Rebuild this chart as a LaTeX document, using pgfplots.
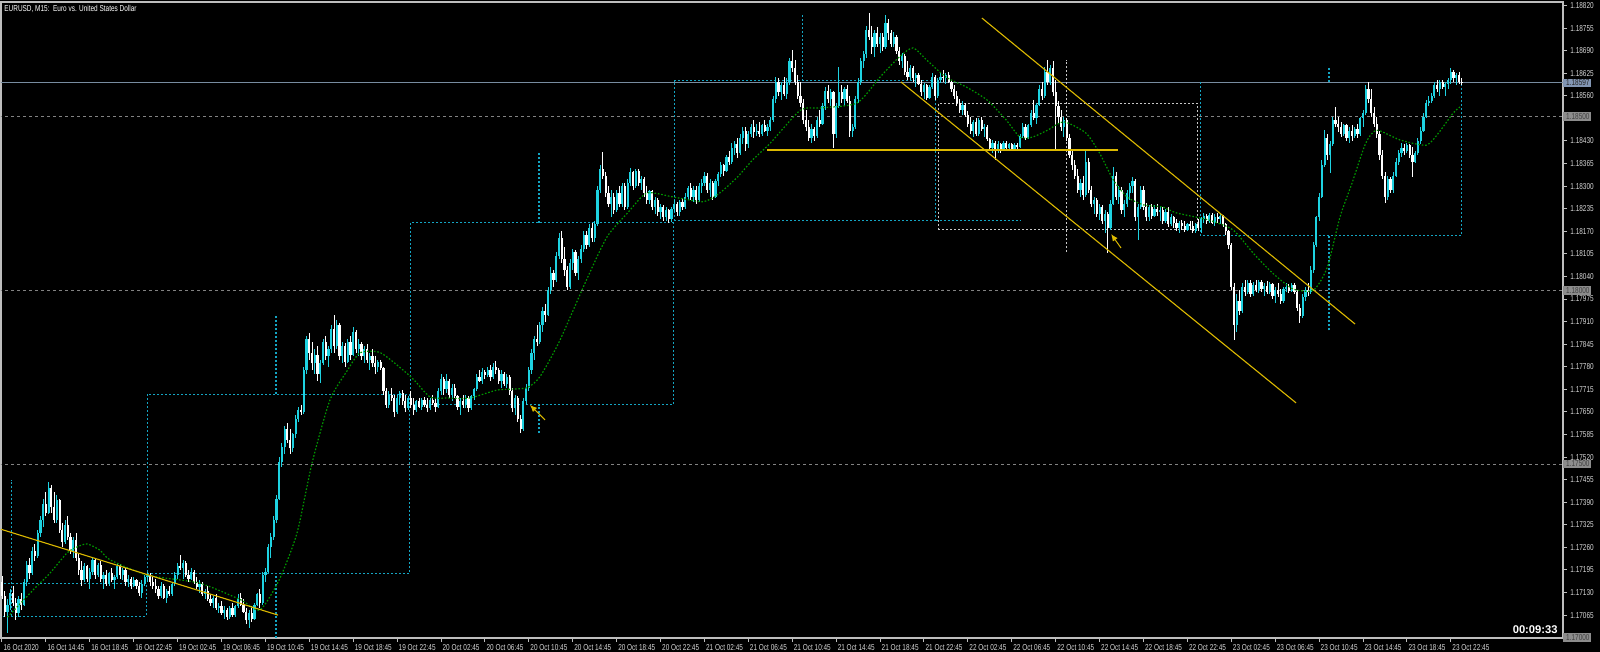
\documentclass[border=0pt]{standalone}
\usepackage{pgfplots}
\pgfplotsset{compat=1.18}
\usepackage{pgfplotstable}
\usepackage{fontspec}
\setmainfont{Liberation Sans}
\newfontfamily\mtfont{Liberation Sans}[FakeStretch=0.75]
\usetikzlibrary{arrows.meta}
\definecolor{bull}{RGB}{30,210,225}
\definecolor{bear}{RGB}{255,255,255}
\definecolor{boxc}{RGB}{20,165,195}
\definecolor{wbox}{RGB}{200,200,200}
\definecolor{mac}{RGB}{0,150,0}
\definecolor{yel}{RGB}{220,185,0}
\definecolor{lvl}{RGB}{130,130,130}
\definecolor{bidc}{RGB}{120,140,160}
\definecolor{framec}{RGB}{190,190,190}
\definecolor{labc}{RGB}{215,215,215}
\definecolor{bidbox}{RGB}{130,150,180}
\definecolor{lvlbox}{RGB}{140,140,140}

% EURUSD M15 candles, prices in points above 1.17000 (1 point = 0.00001)
\pgfplotstableread{
i o h l c
0 160 178 110 120
1 120 135 60 75
2 75 110 14 95
3 95 140 80 130
4 130 150 90 100
5 100 115 50 70
6 70 120 60 110
7 110 130 80 95
8 95 170 90 160
9 160 220 150 210
10 210 230 170 185
11 185 260 180 250
12 250 270 220 235
13 235 310 230 300
14 300 350 290 340
15 340 400 320 385
16 385 420 350 360
17 360 449 355 430
18 430 440 360 375
19 375 420 330 340
20 340 410 330 395
21 395 400 300 310
22 310 330 260 275
23 275 340 270 325
24 325 350 280 290
25 290 300 240 250
26 250 290 230 280
27 280 300 220 230
28 230 240 180 195
29 195 220 150 165
30 165 215 160 205
31 205 210 160 170
32 170 200 140 190
33 190 232 180 225
34 225 230 170 180
35 180 215 175 210
36 210 220 160 170
37 170 190 140 180
38 180 195 150 155
39 155 190 150 185
40 185 200 160 165
41 165 180 140 175
42 175 215 170 205
43 205 212 170 180
44 180 200 165 195
45 195 200 150 160
46 160 180 145 170
47 170 175 140 150
48 150 175 145 165
49 165 170 140 150
50 150 160 120 130
51 130 165 115 155
52 155 180 150 175
53 175 190 160 180
54 180 186 150 160
55 160 175 140 150
56 150 170 130 140
57 140 150 110 120
58 120 160 115 150
59 150 155 110 115
60 115 140 100 135
61 135 150 120 125
62 125 160 120 155
63 155 190 150 180
64 180 215 170 205
65 205 238 195 200
66 200 225 170 215
67 215 220 175 180
68 180 195 160 170
69 170 200 165 190
70 190 195 155 160
71 160 175 140 145
72 145 165 130 155
73 155 160 120 125
74 125 140 110 135
75 135 150 105 110
76 110 125 90 100
77 100 120 85 115
78 115 125 80 85
79 85 100 70 90
80 90 105 65 70
81 70 90 55 80
82 80 85 50 60
83 60 90 55 85
84 85 100 60 65
85 65 95 60 90
86 90 125 85 115
87 115 128 90 95
88 95 110 70 75
89 75 85 40 50
90 50 80 28 70
91 70 90 45 55
92 55 100 50 95
93 95 130 90 125
94 125 140 85 100
95 100 190 95 180
96 180 200 160 190
97 190 270 185 260
98 260 300 230 290
99 290 350 280 340
100 340 410 330 400
101 400 520 395 505
102 505 560 490 550
103 550 610 530 600
104 600 618 560 570
105 570 600 530 545
106 545 590 535 585
107 585 640 575 630
108 630 665 620 655
109 655 670 640 650
110 650 780 645 770
111 770 870 760 860
112 860 877 800 820
113 820 850 770 790
114 790 830 760 815
115 815 840 740 760
116 760 800 733 790
117 790 860 785 850
118 850 870 800 810
119 810 840 780 830
120 830 900 820 890
121 890 929 820 840
122 840 915 830 900
123 900 905 800 810
124 810 850 790 840
125 840 848 780 795
126 795 860 790 850
127 850 870 800 815
128 815 895 810 880
129 880 885 820 830
130 830 860 810 845
131 845 850 800 810
132 810 840 790 830
133 830 845 790 800
134 800 820 770 810
135 810 830 780 790
136 790 810 760 780
137 780 800 765 795
138 795 800 770 775
139 775 780 700 710
140 710 720 660 670
141 670 710 660 700
142 700 720 680 690
143 690 700 635 650
144 650 700 645 690
145 690 710 670 705
146 705 713 670 680
147 680 700 650 660
148 660 695 655 690
149 690 710 660 670
150 670 690 640 655
151 655 685 650 680
152 680 690 660 665
153 665 690 655 685
154 685 693 665 670
155 670 690 650 660
156 660 690 655 685
157 685 700 670 675
158 675 690 650 665
159 665 720 660 710
160 710 760 700 745
161 745 750 700 715
162 715 760 705 740
163 740 745 690 700
164 700 730 680 720
165 720 730 690 695
166 695 700 655 665
167 665 690 640 680
168 680 700 660 670
169 670 700 660 690
170 690 695 650 660
171 660 700 655 695
172 695 720 685 715
173 715 760 710 750
174 750 770 735 740
175 740 775 730 765
176 765 770 745 755
177 755 780 750 770
178 770 785 740 750
179 750 790 745 780
180 780 797 760 770
181 770 775 730 740
182 740 770 720 760
183 760 765 725 730
184 730 760 720 750
185 750 755 700 710
186 710 720 650 660
187 660 700 640 690
188 690 695 620 630
189 630 640 589 600
190 600 690 595 680
191 680 730 670 720
192 720 780 710 770
193 770 830 760 820
194 820 870 800 860
195 860 900 840 850
196 850 910 845 900
197 900 951 880 940
198 940 960 910 930
199 930 1010 925 1000
200 1000 1067 990 1050
201 1050 1060 1010 1030
202 1030 1110 1025 1100
203 1100 1165 1090 1150
204 1150 1170 1080 1090
205 1090 1125 1040 1060
206 1060 1070 1001 1010
207 1010 1090 1005 1080
208 1080 1120 1060 1110
209 1110 1115 1040 1050
210 1050 1100 1030 1090
211 1090 1130 1080 1120
212 1120 1170 1110 1160
213 1160 1170 1120 1130
214 1130 1190 1125 1180
215 1180 1194 1140 1150
216 1150 1200 1140 1190
217 1190 1300 1185 1290
218 1290 1360 1280 1350
219 1350 1398 1320 1330
220 1330 1340 1270 1280
221 1280 1300 1240 1250
222 1250 1290 1211 1270
223 1270 1280 1220 1230
224 1230 1290 1225 1280
225 1280 1300 1240 1250
226 1250 1310 1240 1300
227 1300 1309 1230 1240
228 1240 1320 1235 1310
229 1310 1352 1300 1340
230 1340 1345 1290 1300
231 1300 1350 1295 1345
232 1345 1350 1300 1310
233 1310 1330 1290 1320
234 1320 1325 1270 1280
235 1280 1300 1250 1260
236 1260 1290 1250 1285
237 1285 1290 1230 1240
238 1240 1270 1220 1260
239 1260 1265 1215 1225
240 1225 1250 1205 1240
241 1240 1245 1200 1210
242 1210 1240 1200 1230
243 1230 1235 1194 1205
244 1205 1240 1196 1235
245 1235 1260 1225 1250
246 1250 1255 1215 1225
247 1225 1260 1215 1255
248 1255 1265 1230 1240
249 1240 1280 1235 1270
250 1270 1300 1260 1295
251 1295 1309 1260 1270
252 1270 1300 1255 1290
253 1290 1300 1250 1260
254 1260 1310 1255 1300
255 1300 1320 1280 1310
256 1310 1340 1300 1330
257 1330 1338 1280 1290
258 1290 1320 1270 1310
259 1310 1315 1260 1270
260 1270 1320 1265 1315
261 1315 1340 1300 1335
262 1335 1370 1325 1360
263 1360 1365 1330 1345
264 1345 1390 1340 1385
265 1385 1400 1360 1370
266 1370 1424 1365 1410
267 1410 1430 1390 1420
268 1420 1440 1380 1395
269 1395 1450 1390 1440
270 1440 1470 1420 1460
271 1460 1470 1400 1420
272 1420 1460 1410 1450
273 1450 1480 1441 1470
274 1470 1490 1440 1455
275 1455 1480 1445 1460
276 1460 1485 1441 1450
277 1450 1480 1445 1475
278 1475 1490 1455 1460
279 1460 1480 1445 1470
280 1470 1500 1460 1490
281 1490 1560 1485 1550
282 1550 1614 1540 1600
283 1600 1610 1560 1570
284 1570 1600 1548 1590
285 1590 1614 1560 1565
286 1565 1610 1550 1600
287 1600 1670 1590 1660
288 1660 1692 1630 1640
289 1640 1663 1590 1600
290 1600 1620 1550 1560
291 1560 1600 1528 1540
292 1540 1550 1480 1490
293 1490 1520 1460 1470
294 1470 1490 1430 1440
295 1440 1480 1424 1465
296 1465 1470 1430 1445
297 1445 1500 1440 1490
298 1490 1519 1470 1480
299 1480 1540 1475 1530
300 1530 1585 1520 1575
301 1575 1590 1540 1550
302 1550 1580 1530 1570
303 1570 1575 1409 1450
304 1450 1540 1440 1530
305 1530 1643 1525 1570
306 1570 1590 1540 1550
307 1550 1585 1530 1580
308 1580 1590 1540 1545
309 1545 1560 1441 1460
310 1460 1480 1441 1470
311 1470 1560 1465 1550
312 1550 1610 1540 1600
313 1600 1670 1590 1660
314 1660 1690 1640 1680
315 1680 1760 1670 1750
316 1750 1798 1720 1730
317 1730 1760 1680 1700
318 1700 1750 1672 1740
319 1740 1758 1700 1710
320 1710 1741 1683 1730
321 1730 1740 1690 1700
322 1700 1793 1695 1770
323 1770 1780 1720 1740
324 1740 1749 1700 1710
325 1710 1745 1700 1730
326 1730 1735 1680 1690
327 1690 1700 1650 1660
328 1660 1683 1640 1675
329 1675 1680 1620 1630
330 1630 1660 1606 1615
331 1615 1650 1605 1640
332 1640 1645 1600 1610
333 1610 1625 1585 1620
334 1620 1625 1590 1595
335 1595 1605 1560 1570
336 1570 1596 1550 1590
337 1590 1595 1548 1555
338 1555 1590 1550 1585
339 1585 1625 1580 1615
340 1615 1620 1548 1560
341 1560 1610 1555 1605
342 1605 1625 1596 1615
343 1615 1634 1600 1610
344 1610 1625 1595 1620
345 1620 1630 1596 1600
346 1600 1605 1570 1580
347 1580 1590 1550 1560
348 1560 1575 1530 1540
349 1540 1550 1510 1520
350 1520 1545 1505 1535
351 1535 1540 1499 1505
352 1505 1515 1470 1480
353 1480 1499 1450 1460
354 1460 1490 1441 1485
355 1485 1495 1445 1450
356 1450 1495 1445 1490
357 1490 1499 1460 1465
358 1465 1480 1441 1470
359 1470 1475 1430 1435
360 1435 1440 1400 1410
361 1410 1433 1395 1425
362 1425 1430 1375 1400
363 1400 1430 1395 1420
364 1420 1425 1395 1405
365 1405 1430 1400 1425
366 1425 1430 1404 1410
367 1410 1424 1404 1420
368 1420 1424 1400 1408
369 1408 1424 1404 1418
370 1418 1425 1404 1412
371 1412 1450 1410 1445
372 1445 1481 1440 1470
373 1470 1480 1433 1440
374 1440 1480 1435 1475
375 1475 1520 1470 1510
376 1510 1548 1490 1495
377 1495 1540 1480 1535
378 1535 1590 1530 1580
379 1580 1600 1548 1560
380 1560 1643 1555 1630
381 1630 1663 1590 1600
382 1600 1650 1590 1640
383 1640 1660 1560 1570
384 1570 1606 1404 1530
385 1530 1545 1480 1500
386 1500 1520 1460 1470
387 1470 1500 1441 1490
388 1490 1495 1430 1440
389 1440 1450 1380 1390
390 1390 1400 1346 1360
391 1360 1375 1320 1330
392 1330 1350 1280 1290
393 1290 1320 1270 1310
394 1310 1330 1260 1275
395 1275 1404 1270 1370
396 1370 1380 1280 1290
397 1290 1300 1240 1250
398 1250 1270 1220 1260
399 1260 1265 1210 1220
400 1220 1250 1202 1240
401 1240 1245 1190 1200
402 1200 1230 1165 1220
403 1220 1225 1107 1180
404 1180 1260 1175 1250
405 1250 1355 1245 1330
406 1330 1340 1260 1270
407 1270 1300 1250 1290
408 1290 1298 1220 1230
409 1230 1260 1211 1250
410 1250 1290 1240 1280
411 1280 1310 1260 1300
412 1300 1326 1280 1315
413 1315 1320 1200 1210
414 1210 1250 1145 1240
415 1240 1300 1235 1290
416 1290 1300 1230 1240
417 1240 1251 1200 1210
418 1210 1245 1200 1240
419 1240 1250 1205 1215
420 1215 1245 1210 1235
421 1235 1250 1215 1225
422 1225 1240 1200 1230
423 1230 1240 1190 1200
424 1200 1235 1195 1225
425 1225 1240 1182 1190
426 1190 1220 1185 1210
427 1210 1215 1180 1195
428 1195 1205 1170 1180
429 1180 1200 1165 1195
430 1195 1202 1175 1185
431 1185 1200 1168 1175
432 1175 1195 1170 1190
433 1190 1200 1175 1185
434 1185 1200 1165 1170
435 1170 1195 1165 1190
436 1190 1205 1170 1180
437 1180 1211 1165 1205
438 1205 1222 1195 1215
439 1215 1220 1190 1200
440 1200 1222 1195 1218
441 1218 1222 1190 1195
442 1195 1220 1185 1212
443 1212 1222 1195 1205
444 1205 1220 1190 1215
445 1215 1218 1182 1190
446 1190 1195 1160 1170
447 1170 1175 1120 1130
448 1130 1136 1000 1010
449 1010 1020 857 900
450 900 990 880 970
451 970 1000 930 940
452 940 1020 935 1010
453 1010 1030 985 995
454 995 1030 990 1020
455 1020 1030 980 990
456 990 1025 985 1015
457 1015 1030 995 1000
458 1000 1030 992 1025
459 1025 1030 995 1005
460 1005 1020 985 1012
461 1012 1028 990 995
462 995 1025 990 1018
463 1018 1022 975 985
464 985 1010 963 1000
465 1000 1020 980 990
466 990 1005 960 970
467 970 1010 965 1005
468 1005 1020 995 1010
469 1010 1018 992 998
470 998 1020 994 1015
471 1015 1020 990 995
472 995 1000 940 950
473 950 960 906 925
474 925 990 920 980
475 980 1010 970 1000
476 1000 1020 985 995
477 995 1070 990 1060
478 1060 1140 1050 1130
479 1130 1215 1125 1210
480 1210 1280 1200 1270
481 1270 1375 1265 1360
482 1360 1461 1355 1440
483 1440 1450 1375 1390
484 1390 1430 1337 1420
485 1420 1500 1415 1490
486 1490 1528 1470 1480
487 1480 1500 1455 1470
488 1470 1485 1441 1450
489 1450 1480 1445 1475
490 1475 1480 1430 1440
491 1440 1470 1424 1460
492 1460 1475 1430 1445
493 1445 1470 1440 1465
494 1465 1480 1440 1450
495 1450 1500 1445 1495
496 1495 1520 1470 1510
497 1510 1590 1505 1580
498 1580 1600 1540 1550
499 1550 1580 1500 1510
500 1510 1528 1470 1480
501 1480 1499 1440 1450
502 1450 1460 1375 1390
503 1390 1404 1320 1330
504 1330 1340 1251 1270
505 1270 1330 1260 1320
506 1320 1326 1280 1290
507 1290 1340 1280 1330
508 1330 1380 1325 1370
509 1370 1404 1360 1395
510 1395 1424 1385 1410
511 1410 1420 1390 1400
512 1400 1424 1395 1418
513 1418 1420 1380 1390
514 1390 1412 1326 1370
515 1370 1400 1366 1395
516 1395 1440 1390 1430
517 1430 1470 1420 1460
518 1460 1510 1455 1500
519 1500 1548 1495 1540
520 1540 1560 1530 1545
521 1545 1568 1539 1560
522 1560 1600 1555 1590
523 1590 1606 1570 1580
524 1580 1606 1560 1600
525 1600 1606 1580 1585
526 1585 1600 1560 1595
527 1595 1610 1580 1605
528 1605 1640 1595 1630
529 1630 1635 1600 1610
530 1610 1625 1590 1620
531 1620 1628 1595 1600
532 1600 1610 1590 1597
}\candles

% moving average (green dotted)
\pgfplotstableread{
i v
2 59
11.3 137
17.5 186
23.7 244
27.3 261
31 270
35.7 252
39.4 224
53 180
72 157
87 109
94 80
101 166
107.5 301
113 503
119.5 684
126 771
130.5 820
138 820
149 751
156 693
162 690
170.5 690
180.5 713
191 719
196 751
203 851
213 1030
220.5 1154
228 1223
235 1280
244.5 1269
255.5 1255
261.5 1280
268 1326
273.5 1375
280 1424
291 1519
298 1525
311.5 1539
320 1614
327 1672
332 1698
337 1663
344 1614
351.5 1585
359 1548
366 1490
371 1441
375.5 1441
381 1461
387 1485
395 1453
400 1395
405 1318
410 1269
416 1246
423 1240
428 1223
440 1202
448.6 1174
456 1107
463 1050
470.5 1004
478 1001
483 1067
487.6 1211
492 1309
497 1424
501 1461
509.5 1433
519 1418
523.5 1453
528.8 1510
531.3 1528
}\ma

\begin{document}
\begin{tikzpicture}
\fill[black] (0,0) rectangle (800pt,326pt);
\useasboundingbox (0,0) rectangle (800pt,326pt);
\begin{axis}[
  at={(0.5pt,7pt)}, anchor=south west,
  scale only axis, width=781pt, height=318pt,
  xmin=-0.364, xmax=568.88, ymin=-0.9, ymax=1830.2,
  clip mode=individual,
  axis line style={draw=framec, line width=0.7pt},
  xtick={0,16,...,528},
  xticklabels={16 Oct 2020,16 Oct 14:45,16 Oct 18:45,16 Oct 22:45,19 Oct 02:45,19 Oct 06:45,19 Oct 10:45,19 Oct 14:45,19 Oct 18:45,19 Oct 22:45,20 Oct 02:45,20 Oct 06:45,20 Oct 10:45,20 Oct 14:45,20 Oct 18:45,20 Oct 22:45,21 Oct 02:45,21 Oct 06:45,21 Oct 10:45,21 Oct 14:45,21 Oct 18:45,21 Oct 22:45,22 Oct 02:45,22 Oct 06:45,22 Oct 10:45,22 Oct 14:45,22 Oct 18:45,22 Oct 22:45,23 Oct 02:45,23 Oct 06:45,23 Oct 10:45,23 Oct 14:45,23 Oct 18:45,23 Oct 22:45},
  ytick={65,130,...,1820},
  yticklabels={1.17065,1.17130,1.17195,1.17260,1.17325,1.17390,1.17455,1.17520,1.17585,1.17650,1.17715,1.17780,1.17845,1.17910,1.17975,1.18040,1.18105,1.18170,1.18235,1.18300,1.18365,1.18430,{},1.18560,1.18625,1.18690,1.18755,1.18820},
  xtick pos=left, ytick pos=right, yticklabel pos=right,
  tick align=outside, major tick length=2pt,
  every tick/.style={framec, line width=0.5pt},
  ticklabel style={font=\mtfont\fontsize{4.3}{4.3}\selectfont, text=labc, inner sep=0pt},
  xticklabel style={anchor=north west, xshift=0.6pt, yshift=-1.2pt},
  yticklabel style={anchor=west, xshift=1.5pt},
  candle/.style={only marks, mark options={draw=none, fill=none}, mark size=0pt,
    error bars/y dir=both, error bars/y explicit, error bars/error mark=none},
]
% level lines
\addplot[lvl, line width=0.5pt, dash pattern=on 1.5pt off 1.5pt] coordinates {(-1,1500) (570,1500)};
\addplot[lvl, line width=0.5pt, dash pattern=on 1.5pt off 1.5pt] coordinates {(-1,1000) (570,1000)};
\addplot[lvl, line width=0.5pt, dash pattern=on 1.5pt off 1.5pt] coordinates {(-1,500) (570,500)};
\addplot[bidc, line width=0.5pt] coordinates {(-1,1597) (570,1597)};
% daily boxes
\addplot[boxc, line width=0.5pt, dash pattern=on 1pt off 1pt] coordinates {(-5,156) (52.6,156) (52.6,62) (-5,62)};
\addplot[boxc, line width=0.5pt, dash pattern=on 1pt off 1pt] coordinates {(52.9,186) (148.6,186) (148.6,701) (52.9,701) (52.9,186)};
\addplot[boxc, line width=0.5pt, dash pattern=on 1pt off 1pt] coordinates {(148.8,670) (244.6,670) (244.6,1194) (148.8,1194) (148.8,670)};
\addplot[boxc, line width=0.5pt, dash pattern=on 1pt off 1pt] coordinates {(245,1202) (340.2,1202) (340.2,1603) (245,1603) (245,1202)};
\addplot[boxc, line width=0.5pt, dash pattern=on 1pt off 1pt] coordinates {(340.2,1202) (371,1202)};
\addplot[wbox, line width=0.5pt, dash pattern=on 1pt off 1pt] coordinates {(341.2,1176) (435.5,1176) (435.5,1539) (341.2,1539) (341.2,1176)};
\addplot[boxc, line width=0.5pt, dash pattern=on 1pt off 1pt] coordinates {(436.6,1600) (436.6,1159) (531.8,1159) (531.8,1600)};
% day range markers
\addplot[boxc, line width=0.6pt, dash pattern=on 1pt off 1pt] coordinates {(3.6,62) (3.6,454)};
\addplot[boxc, line width=0.6pt, dash pattern=on 1pt off 1pt] coordinates {(99.85,701) (99.85,929)};
\addplot[boxc, line width=0.6pt, dash pattern=on 1pt off 1pt] coordinates {(99.85,-1) (99.85,186)};
\addplot[boxc, line width=0.6pt, dash pattern=on 1pt off 1pt] coordinates {(195.7,1194) (195.7,1398)};
\addplot[boxc, line width=0.6pt, dash pattern=on 1pt off 1pt] coordinates {(195.7,589) (195.7,670)};
\addplot[boxc, line width=0.6pt, dash pattern=on 1pt off 1pt] coordinates {(291.6,1603) (291.6,1798)};
\addplot[wbox, line width=0.6pt, dash pattern=on 1pt off 1pt] coordinates {(387.8,1110) (387.8,1663)};
\addplot[boxc, line width=0.6pt, dash pattern=on 1pt off 1pt] coordinates {(483.6,1600) (483.6,1643)};
\addplot[boxc, line width=0.6pt, dash pattern=on 1pt off 1pt] coordinates {(483.6,885) (483.6,1159)};
% candles: bullish
\addplot[candle, restrict expr to domain={\thisrow{c}-\thisrow{o}}{0:5000},
  error bars/error bar style={draw=bull, line width=0.45pt}]
  table[x=i, y=c, y error plus expr=\thisrow{h}-\thisrow{c}, y error minus expr=\thisrow{c}-\thisrow{l}] {\candles};
\addplot[candle, restrict expr to domain={\thisrow{c}-\thisrow{o}}{0:5000},
  error bars/error bar style={draw=bull, line width=1.1pt}]
  table[x=i, y=c, y error plus expr=0, y error minus expr=\thisrow{c}-\thisrow{o}] {\candles};
% candles: bearish
\addplot[candle, restrict expr to domain={\thisrow{o}-\thisrow{c}}{1:5000},
  error bars/error bar style={draw=bear, line width=0.45pt}]
  table[x=i, y=c, y error plus expr=\thisrow{h}-\thisrow{c}, y error minus expr=\thisrow{c}-\thisrow{l}] {\candles};
\addplot[candle, restrict expr to domain={\thisrow{o}-\thisrow{c}}{1:5000},
  error bars/error bar style={draw=bear, line width=1.1pt}]
  table[x=i, y=c, y error plus expr=\thisrow{o}-\thisrow{c}, y error minus expr=0] {\candles};
% moving average
\addplot[mac, line width=0.6pt, dash pattern=on 0.8pt off 0.9pt, smooth, tension=0.4] table[x=i, y=v] {\ma};
% yellow objects
\addplot[yel, line width=0.55pt] coordinates {(-0.7,313) (100.6,65)};
\addplot[yel, line width=0.7pt] coordinates {(278.8,1404) (406.7,1404)};
\addplot[yel, line width=0.55pt] coordinates {(327.6,1600) (471.6,676)};
\addplot[yel, line width=0.55pt] coordinates {(357.1,1784) (493.1,903)};
\addplot[yel, line width=0.5pt, -{Latex[length=3.5pt,width=3pt]}] coordinates {(197.9,627) (192.4,670)};
\addplot[yel, line width=0.5pt, -{Latex[length=3.5pt,width=3pt]}] coordinates {(407.8,1122) (404.2,1162)};
% price boxes on the scale
\node[fill=bidbox, text=black!85, font=\mtfont\fontsize{4.3}{4.3}\selectfont, inner sep=0.6pt, anchor=west] at (axis cs:568.88,1597) {\hspace{0.8pt}1.18597};
\node[fill=lvlbox, text=black!75, font=\mtfont\fontsize{4.3}{4.3}\selectfont, inner sep=0.6pt, anchor=west] at (axis cs:568.88,1500) {\hspace{0.8pt}1.18500};
\node[fill=lvlbox, text=black!75, font=\mtfont\fontsize{4.3}{4.3}\selectfont, inner sep=0.6pt, anchor=west] at (axis cs:568.88,1000) {\hspace{0.8pt}1.18000};
\node[fill=lvlbox, text=black!75, font=\mtfont\fontsize{4.3}{4.3}\selectfont, inner sep=0.6pt, anchor=west] at (axis cs:568.88,500) {\hspace{0.8pt}1.17500};
\node[fill=lvlbox, text=black!75, font=\mtfont\fontsize{4.3}{4.3}\selectfont, inner sep=0.6pt, anchor=west] at (axis cs:568.88,0) {\hspace{0.8pt}1.17000};
\end{axis}
\node[anchor=north west, inner sep=0pt, text=white, font=\mtfont\fontsize{4.3}{4.3}\selectfont] at (2pt,323.6pt) {EURUSD, M15:\ \ Euro vs. United States Dollar};
\node[anchor=east, inner sep=0pt, text=white, font=\bfseries\fontsize{5.6}{5.6}\selectfont] at (779pt,11.3pt) {00:09:33};
\end{tikzpicture}
\end{document}
